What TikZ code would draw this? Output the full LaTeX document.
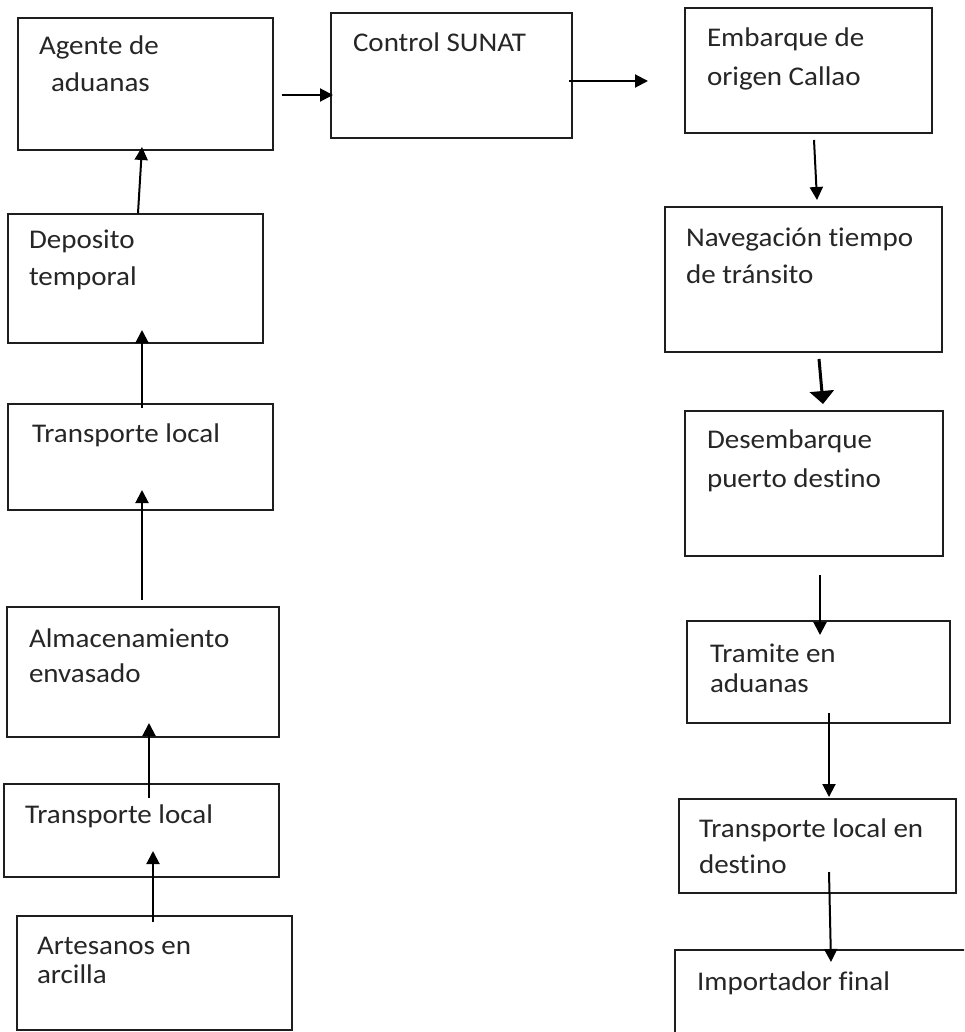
\documentclass[tikz,border=0pt]{standalone}
\usepackage{fontspec}
\setmainfont{Carlito}[FakeStretch=1.075,Ligatures={NoCommon}]
\usetikzlibrary{arrows.meta}
\definecolor{linec}{RGB}{30,30,30}
\definecolor{textc}{RGB}{38,38,38}
\begin{document}
\begin{tikzpicture}[x=1pt,y=-1pt,
  box/.style={draw=linec, line width=1.6pt, inner sep=0pt, outer sep=0pt, anchor=north west, fill=none},
  lbl/.style={anchor=base west, inner sep=0pt, outer sep=0pt, text=textc, font=\fontsize{27}{32}\selectfont},
  arr/.style={draw=black, line width=2pt, -{Triangle[length=13pt,width=13pt]}},
  arrthick/.style={draw=black, line width=3pt, -{Triangle[length=13pt,width=24pt]}}]
\useasboundingbox (0,0) rectangle (964,1032);
\clip (0,0) rectangle (964,1032);
\fill[white] (0,0) rectangle (964,1032);

% left column
\node[box, minimum width=255pt, minimum height=132pt] (agente) at (18,18) {};
\node[box, minimum width=241pt, minimum height=125pt] (control) at (331,13) {};
\node[box, minimum width=255pt, minimum height=129pt] (dep) at (8,214) {};
\node[box, minimum width=265pt, minimum height=106pt] (tl1) at (8,404) {};
\node[box, minimum width=272pt, minimum height=130pt] (alm) at (7,607) {};
\node[box, minimum width=275pt, minimum height=93pt] (tl2) at (4,784) {};
\node[box, minimum width=275pt, minimum height=114pt] (art) at (17,916) {};
% right column
\node[box, minimum width=247pt, minimum height=125pt] (emb) at (685,8) {};
\node[box, minimum width=277pt, minimum height=145pt] (nav) at (665,207) {};
\node[box, minimum width=258pt, minimum height=145pt] (des) at (685,411) {};
\node[box, minimum width=263pt, minimum height=102pt] (tra) at (687,621) {};
\node[box, minimum width=277pt, minimum height=94pt] (tld) at (679,799) {};
\node[box, minimum width=300pt, minimum height=110pt] (imp) at (675,950) {};

% labels
\node[lbl] (agenteA) at (39,55) {Agente de};
\node[lbl] (agenteB) at (51,92) {aduanas};
\node[lbl] (controlA) at (353,52) {Control SUNAT};
\node[lbl] (depA) at (29,248) {Deposito};
\node[lbl] (depB) at (29,285) {temporal};
\node[lbl] (tlA) at (32,442) {Transporte local};
\node[lbl] (almA) at (29,647) {Almacenamiento};
\node[lbl] (almB) at (29,682) {envasado};
\node[lbl] (tlbA) at (25,823) {Transporte local};
\node[lbl] (artA) at (37,954) {Artesanos en};
\node[lbl] (artB) at (37,983) {arcilla};
\node[lbl] (embA) at (707,47) {Embarque de};
\node[lbl] (embB) at (707,86) {origen Callao};
\node[lbl] (navA) at (686,247) {Navegación tiempo};
\node[lbl] (navB) at (686,283) {de tránsito};
\node[lbl] (desA) at (707,448) {Desembarque};
\node[lbl] (desB) at (707,487) {puerto destino};
\node[lbl] (traA) at (710,662) {Tramite en};
\node[lbl] (traB) at (710,692) {aduanas};
\node[lbl] (tldA) at (699,837) {Transporte local en};
\node[lbl] (tldB) at (699,873) {destino};
\node[lbl] (impA) at (697,990) {Importador final};

% connectors
\draw[arr] ([shift={(130,-1)}]dep.north west) -- ([shift={(124,-3)}]agente.south west);
\draw[arr] ([shift={(134,4)}]tl1.north west) -- ([shift={(134,-13)}]dep.south west);
\draw[arr] ([shift={(135,-7)}]alm.north west) -- ([shift={(134,-20)}]tl1.south west);
\draw[arr] ([shift={(145,14)}]tl2.north west) -- ([shift={(142,-14)}]alm.south west);
\draw[arr] ([shift={(136,6)}]art.north west) -- ([shift={(149,-26)}]tl2.south west);
\draw[arr] ([shift={(9,77)}]agente.north east) -- ([shift={(2,82)}]control.north west);
\draw[arr] ([shift={(-3,68)}]control.north east) -- ([shift={(-37,73)}]emb.north west);
\draw[arr] ([shift={(129,7)}]emb.south west) -- ([shift={(152,-7)}]nav.north west);
\draw[arrthick] ([shift={(154,7)}]nav.south west) -- ([shift={(138,-7)}]des.north west);
\draw[arr] ([shift={(135,19)}]des.south west) -- ([shift={(133,14)}]tra.north west);
\draw[arr] ([shift={(142,-10)}]tra.south west) -- ([shift={(150,-2)}]tld.north west);
\draw[arr] ([shift={(150,-21)}]tld.south west) -- ([shift={(156,12)}]imp.north west);
\end{tikzpicture}
\end{document}
